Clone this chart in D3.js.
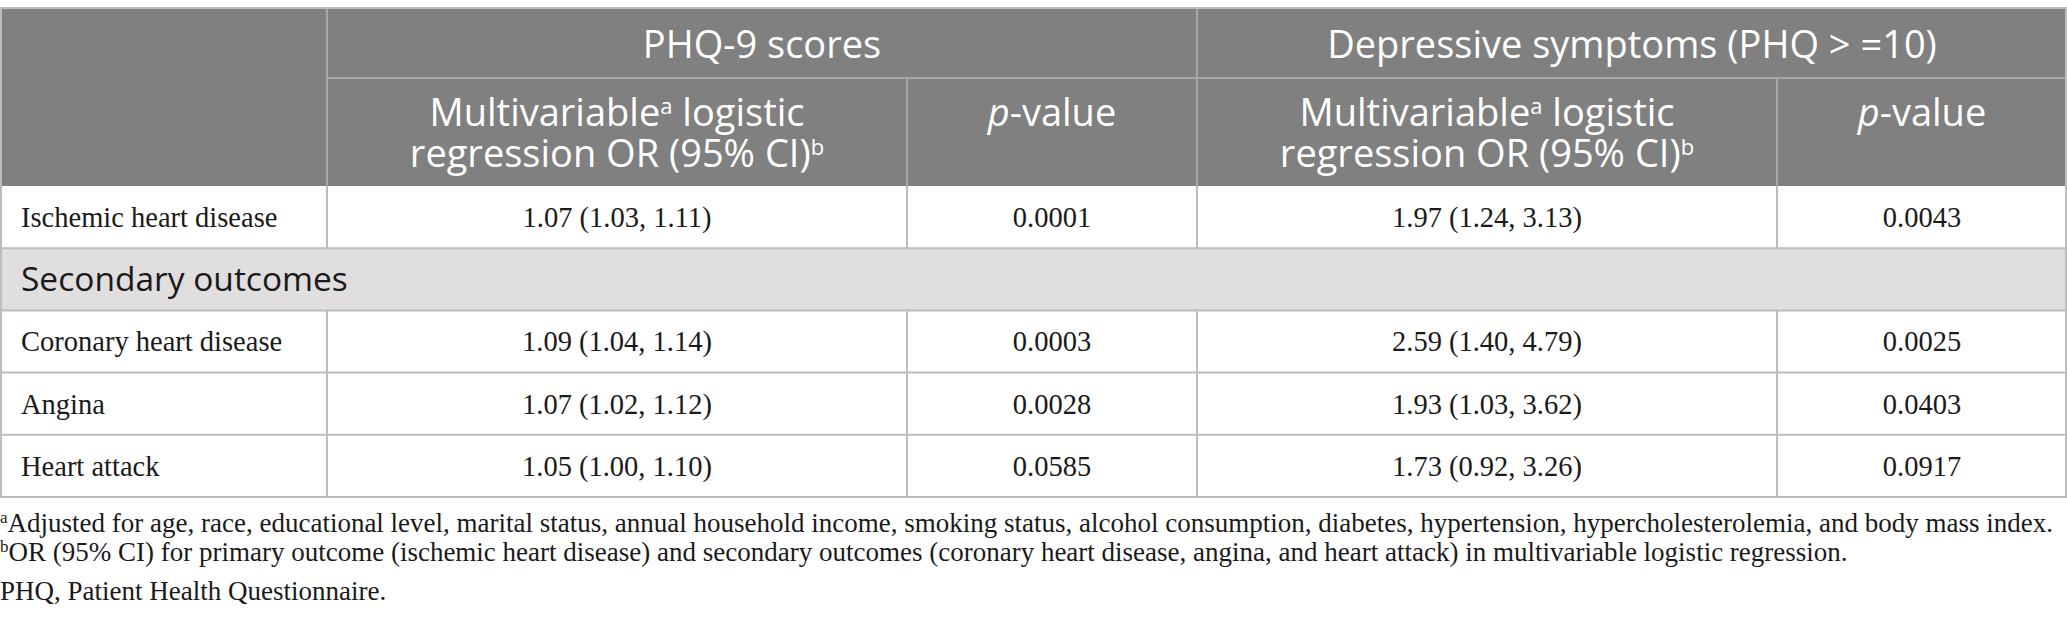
<!DOCTYPE html>
<html>
<head>
<meta charset="utf-8">
<script src="https://cdn.jsdelivr.net/npm/d3@7"></script>
<style>
  body { margin: 0; background: #fff; }
  svg { display: block; }
</style>
</head>
<body>
<svg id="chart" width="2067" height="629"></svg>
<script>
// table content
const outcomes = ["Ischemic heart disease", "Coronary heart disease", "Angina", "Heart attack"];
const sectionLabel = "Secondary outcomes";
const groupLabels = ["PHQ-9 scores", "Depressive symptoms (PHQ > =10)"];

const phqOR = [1.07, 1.09, 1.07, 1.05];
const phqLo = [1.03, 1.04, 1.02, 1.00];
const phqHi = [1.11, 1.14, 1.12, 1.10];
const phqP = [0.0001, 0.0003, 0.0028, 0.0585];

const depOR = [1.97, 2.59, 1.93, 1.73];
const depLo = [1.24, 1.40, 1.03, 0.92];
const depHi = [3.13, 4.79, 3.62, 3.26];
const depP = [0.0043, 0.0025, 0.0403, 0.0917];

const footnotes = [
  [{ t: "a", sup: true }, { t: "Adjusted for age, race, educational level, marital status, annual household income, smoking status, alcohol consumption, diabetes, hypertension, hypercholesterolemia, and body mass index." }],
  [{ t: "b", sup: true }, { t: "OR (95% CI) for primary outcome (ischemic heart disease) and secondary outcomes (coronary heart disease, angina, and heart attack) in multivariable logistic regression." }],
  [{ t: "PHQ, Patient Health Questionnaire." }]
];

const W = 2067;
const headFill = "#7f807f";
const headLine = "#a7a7a7";
const bodyLine = "#bdbdbd";
const sectionFill = "#e0dedf";
const sans = "'Open Sans', 'Noto Sans', sans-serif";
const serif = "'Liberation Serif', 'DejaVu Serif', serif";

const svg = d3.select("#chart");

// columns: label | OR | p | OR | p
const colWidths = [327, 580, 290, 580, 290];
const colEdges = d3.cumsum([0].concat(colWidths));
const x = d3.scaleOrdinal().domain(d3.range(5)).range(colEdges.slice(0, 5));
const xMid = i => x(i) + colWidths[i] / 2;

const tableTop = 8, headRow1 = 78, headBottom = 186, tableBottom = 497;

const rowKeys = [outcomes[0], sectionLabel, ...outcomes.slice(1)];
const y = d3.scaleBand().domain(rowKeys).range([headBottom, tableBottom]).paddingInner(0);

const fmt2 = d3.format(".2f");
const fmt4 = d3.format(".4f");
const ci = (o, l, h, i) => `${fmt2(o[i])} (${fmt2(l[i])}, ${fmt2(h[i])})`;

// text with superscript / italic runs; rise given in px so the baseline comes back exactly
function rich(sel, parts, supSize, rise) {
  let back = 0;
  parts.forEach(p => {
    const ts = sel.append("tspan").text(p.t);
    if (p.sup) {
      ts.attr("dy", -rise - back).attr("font-size", supSize);
      back = -rise;
    } else {
      if (back) ts.attr("dy", -back);
      back = 0;
      if (p.it) ts.attr("font-style", "italic");
    }
  });
}

// header background
svg.append("rect").attr("x", 0).attr("y", tableTop).attr("width", W).attr("height", headBottom - tableTop)
  .attr("fill", headFill);

// header lines
const hl = svg.append("g").attr("stroke", headLine).attr("stroke-width", 2);
hl.append("line").attr("x1", x(1)).attr("x2", W).attr("y1", headRow1).attr("y2", headRow1);
hl.append("line").attr("x1", x(1)).attr("x2", x(1)).attr("y1", tableTop).attr("y2", headBottom);
hl.append("line").attr("x1", x(3)).attr("x2", x(3)).attr("y1", tableTop).attr("y2", headBottom);
hl.append("line").attr("x1", x(2)).attr("x2", x(2)).attr("y1", headRow1).attr("y2", headBottom);
hl.append("line").attr("x1", x(4)).attr("x2", x(4)).attr("y1", headRow1).attr("y2", headBottom);

const ht = svg.append("g").attr("fill", "#fff").attr("font-family", sans).attr("font-size", 38)
  .attr("text-anchor", "middle");

groupLabels.forEach((g, i) => {
  const c0 = i * 2 + 1;
  ht.append("text").attr("x", x(c0) + (colWidths[c0] + colWidths[c0 + 1]) / 2)
    .attr("y", (tableTop + headRow1) / 2 + 1).attr("dy", "0.36em").text(g);
});

[1, 3].forEach(c => {
  rich(ht.append("text").attr("x", xMid(c)).attr("y", 112).attr("dy", "0.36em"),
    [{ t: "Multivariable" }, { t: "a", sup: true }, { t: " logistic" }], 22, 12);
  rich(ht.append("text").attr("x", xMid(c)).attr("y", 153).attr("dy", "0.36em"),
    [{ t: "regression OR (95% CI)" }, { t: "b", sup: true }], 22, 12);
});
[2, 4].forEach(c => {
  rich(ht.append("text").attr("x", xMid(c)).attr("y", 112).attr("dy", "0.36em"),
    [{ t: "p", it: true }, { t: "-value" }], 22, 12);
});

// body
const body = svg.append("g");
body.append("rect").attr("x", 0).attr("y", y(sectionLabel)).attr("width", W).attr("height", y.bandwidth())
  .attr("fill", sectionFill);

const bl = body.append("g").attr("stroke", bodyLine).attr("stroke-width", 2);
rowKeys.forEach(k => {
  bl.append("line").attr("x1", 0).attr("x2", W).attr("y1", y(k) + y.bandwidth()).attr("y2", y(k) + y.bandwidth());
});
bl.append("line").attr("x1", 1).attr("x2", 1).attr("y1", tableTop).attr("y2", tableBottom);
bl.append("line").attr("x1", W - 1).attr("x2", W - 1).attr("y1", tableTop).attr("y2", tableBottom);
bl.append("line").attr("x1", 0).attr("x2", W).attr("y1", tableTop).attr("y2", tableTop);
rowKeys.filter(k => k !== sectionLabel).forEach(k => {
  [1, 2, 3, 4].forEach(c => {
    bl.append("line").attr("x1", x(c)).attr("x2", x(c)).attr("y1", y(k)).attr("y2", y(k) + y.bandwidth());
  });
});

const bt = body.append("g").attr("fill", "#1a1a1a").attr("font-family", serif).attr("font-size", 28.5);
outcomes.forEach((o, i) => {
  const cy = y(o) + y.bandwidth() / 2;
  bt.append("text").attr("x", 21).attr("y", cy).attr("dy", "0.35em").text(o);
  const cells = [ci(phqOR, phqLo, phqHi, i), fmt4(phqP[i]), ci(depOR, depLo, depHi, i), fmt4(depP[i])];
  cells.forEach((t, j) => {
    bt.append("text").attr("x", xMid(j + 1)).attr("y", cy).attr("dy", "0.35em")
      .attr("text-anchor", "middle").text(t);
  });
});

body.append("text").attr("x", 21).attr("y", y(sectionLabel) + y.bandwidth() / 2).attr("dy", "0.36em")
  .attr("font-family", sans).attr("font-size", 33.5).attr("fill", "#1a1a1a").text(sectionLabel);

// footnotes
const fy = d3.scaleBand().domain(d3.range(footnotes.length)).range([517, 605]);
const ft = svg.append("g").attr("fill", "#1a1a1a").attr("font-family", serif).attr("font-size", 27);
footnotes.forEach((f, i) => {
  rich(ft.append("text").attr("x", 0).attr("y", fy(i) + fy.bandwidth() / 2).attr("dy", "0.35em"), f, 17, 9);
});
</script>
</body>
</html>
